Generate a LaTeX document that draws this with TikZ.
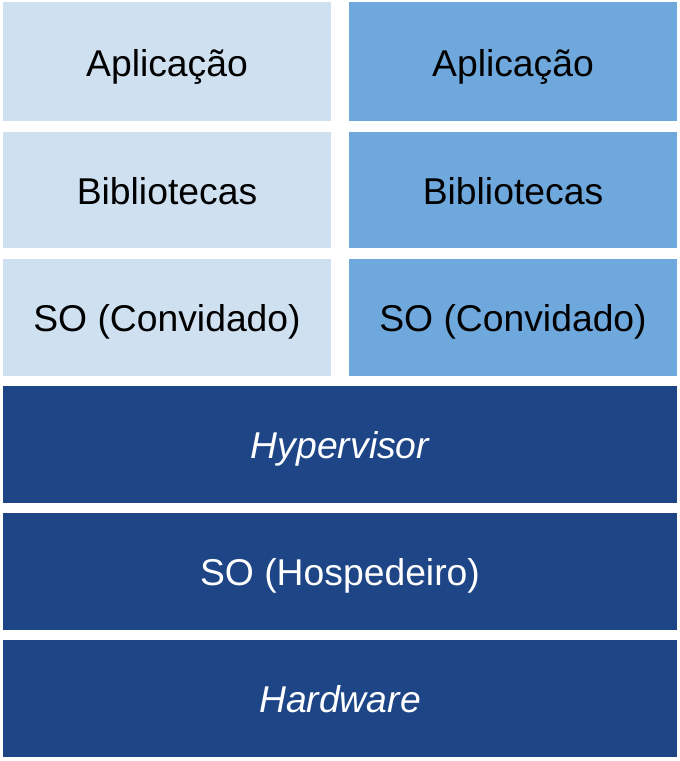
\documentclass[tikz,border=0pt]{standalone}
\usepackage{fontspec}
\setmainfont{Liberation Sans}
\definecolor{lightb}{HTML}{CFE0F1}
\definecolor{midb}{HTML}{6FA8DC}
\definecolor{darkb}{HTML}{1E4687}
\begin{document}
\begin{tikzpicture}[x=1pt,y=-1pt,
  lay/.style={inner sep=0pt,text height=27pt,text depth=0pt,font=\fontsize{37.3}{40}\selectfont}]
\useasboundingbox (0,0) rectangle (680,761);
% left column
\fill[lightb] (3,2) rectangle (331,121);
\node[lay] (la) at (167,63) {Aplicação};
\fill[lightb] (3,132) rectangle (331,248);
\node[lay] (lb) at (167,191) {Bibliotecas};
\fill[lightb] (3,259) rectangle (331,376);
\node[lay] (ls) at (167,318) {SO (Convidado)};
% right column
\fill[midb] (349,2) rectangle (677,121);
\node[lay] (ra) at (513,63) {Aplicação};
\fill[midb] (349,132) rectangle (677,248);
\node[lay] (rb) at (513,191) {Bibliotecas};
\fill[midb] (349,259) rectangle (677,376);
\node[lay] (rs) at (513,318) {SO (Convidado)};
% dark rows
\fill[darkb] (3,386) rectangle (677,503);
\node[lay,text=white] (hv) at (340,445) {\itshape Hypervisor};
\fill[darkb] (3,513) rectangle (677,630);
\node[lay,text=white] (host) at (340,572) {SO (Hospedeiro)};
\fill[darkb] (3,640) rectangle (677,757);
\node[lay,text=white] (hw) at (340,699) {\itshape Hardware};
\end{tikzpicture}
\end{document}
